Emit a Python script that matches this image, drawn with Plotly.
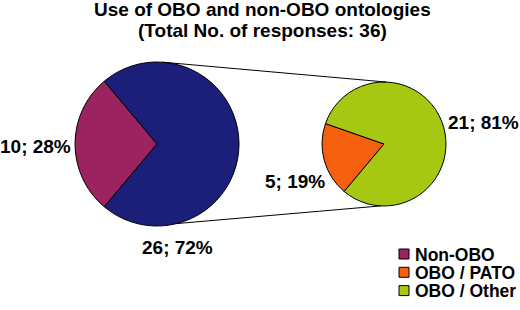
import math
import plotly.graph_objects as go

# ---- data ----
left_labels = ["Non-OBO", "OBO"]
left_values = [10, 26]
right_labels = ["OBO / PATO", "OBO / Other"]
right_values = [5, 21]
legend_labels = ["Non-OBO", "OBO / PATO", "OBO / Other"]
title_lines = ["Use of OBO and non-OBO ontologies", "(Total No. of responses: 36)"]

# ---- style ----
W, H = 520, 310
FONT = "Arial, Liberation Sans, sans-serif"
C_NAVY = "#1b1f7a"
C_MAROON = "#9b2360"
C_ORANGE = "#f5600f"
C_GREEN = "#a6c812"
left_colors = [C_MAROON, C_NAVY]
right_colors = [C_ORANGE, C_GREEN]
legend_colors = [C_MAROON, C_ORANGE, C_GREEN]

L_C, L_R = (157, 144), 82
R_C, R_R = (384, 144), 62


def px(x):
    return x / W


def py(y):
    return 1 - y / H


def on_circle(c, r, deg):
    a = math.radians(deg)
    return c[0] + r * math.cos(a), c[1] - r * math.sin(a)


def domain(c, r):
    return dict(x=[px(c[0] - r), px(c[0] + r)], y=[py(c[1] + r), py(c[1] - r)])


fig = go.Figure()
fig.add_trace(go.Pie(labels=left_labels, values=left_values, sort=False,
                     direction="clockwise", rotation=220,
                     marker=dict(colors=left_colors, line=dict(color="black", width=1)),
                     textinfo="none", hoverinfo="skip", showlegend=False,
                     domain=domain(L_C, L_R)))
fig.add_trace(go.Pie(labels=right_labels, values=right_values, sort=False,
                     direction="clockwise", rotation=220,
                     marker=dict(colors=right_colors, line=dict(color="black", width=1)),
                     textinfo="none", hoverinfo="skip", showlegend=False,
                     domain=domain(R_C, R_R)))

shapes = []
# connector lines between pies
for la, ra in [(86, 88), (-76, -93)]:
    x0, y0 = on_circle(L_C, L_R, la)
    x1, y1 = on_circle(R_C, R_R, ra)
    shapes.append(dict(type="line", xref="paper", yref="paper",
                       x0=px(x0), y0=py(y0), x1=px(x1), y1=py(y1),
                       line=dict(color="black", width=1)))

annotations = []


def pct_text(v, tot):
    return f"{v}; {round(100 * v / tot)}%"


lt = sum(left_values)
rt = sum(right_values)
lab_font = dict(family=FONT, size=19, color="black")
annotations.append(dict(text="<b>%s</b>" % pct_text(left_values[0], lt), x=px(71.5), y=py(147),
                        xanchor="right", yanchor="middle"))
annotations.append(dict(text="<b>%s</b>" % pct_text(left_values[1], lt), x=px(177), y=py(247),
                        xanchor="center", yanchor="middle"))
annotations.append(dict(text="<b>%s</b>" % pct_text(right_values[0], rt), x=px(326), y=py(181),
                        xanchor="right", yanchor="middle"))
annotations.append(dict(text="<b>%s</b>" % pct_text(right_values[1], rt), x=px(447), y=py(123),
                        xanchor="left", yanchor="middle"))
for a in annotations:
    a.update(xref="paper", yref="paper", showarrow=False, font=lab_font, borderpad=0)

# title
for i, t in enumerate(title_lines):
    annotations.append(dict(text="<b>%s</b>" % t, x=px(262), y=py(9 + 21 * i),
                            xref="paper", yref="paper", showarrow=False,
                            xanchor="center", yanchor="middle", borderpad=0,
                            font=dict(family=FONT, size=19, color="black")))

# legend
for i, (lab, col) in enumerate(zip(legend_labels, legend_colors)):
    yc = 254 + 18.3 * i
    shapes.append(dict(type="rect", xref="paper", yref="paper",
                       x0=px(399), x1=px(409), y0=py(yc + 5), y1=py(yc - 5),
                       fillcolor=col, line=dict(color="black", width=1)))
    annotations.append(dict(text="<b>%s</b>" % lab, x=px(414), y=py(yc),
                            xref="paper", yref="paper", showarrow=False,
                            xanchor="left", yanchor="middle", borderpad=0, height=17,
                            font=dict(family=FONT, size=17.5, color="black")))

fig.update_layout(width=W, height=H, margin=dict(l=0, r=0, t=0, b=0),
                  paper_bgcolor="white", plot_bgcolor="white",
                  shapes=shapes, annotations=annotations, showlegend=False)
fig.write_html("out.html", config={"displayModeBar": False, "staticPlot": True},
               post_script="document.body.style.margin='0';document.body.style.overflow='hidden';")
